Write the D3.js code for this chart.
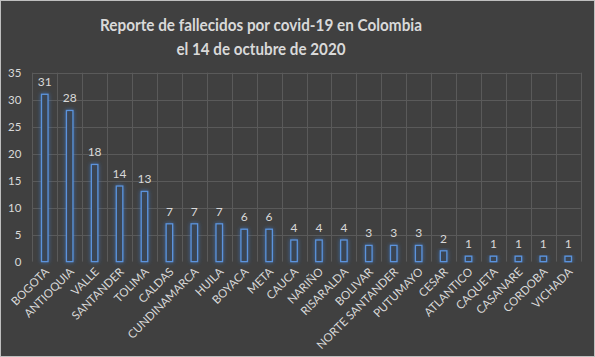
<!DOCTYPE html>
<html><head><meta charset="utf-8">
<script src="https://cdn.jsdelivr.net/npm/d3@7"></script>
<style>
html,body{margin:0;padding:0;background:#404040;}
svg{display:block;}
</style></head><body>
<svg id="c" width="595" height="357"></svg>
<script>
const categories = ["BOGOTA","ANTIOQUIA","VALLE","SANTANDER","TOLIMA","CALDAS","CUNDINAMARCA","HUILA","BOYACA","META","CAUCA","NARIÑO","RISARALDA","BOLIVAR","NORTE SANTANDER","PUTUMAYO","CESAR","ATLANTICO","CAQUETA","CASANARE","CORDOBA","VICHADA"];
const values = [31,28,18,14,13,7,7,7,6,6,4,4,4,3,3,3,2,1,1,1,1,1];
const yTicks = [0,5,10,15,20,25,30,35];
const titleLines = ["Reporte de fallecidos por covid-19 en Colombia","el 14 de octubre de 2020"];
const titleWidths = [322,169];

const W = 595, H = 357;
const m = {left:32.3, right:W-580.7, top:72.7, bottom:H-261.6};
const svg = d3.select("#c");
const font = "Lato, 'Open Sans', sans-serif";
const txt = "#d9d9d9";

svg.append("rect").attr("x",0.5).attr("y",0.5).attr("width",W-1).attr("height",H-1)
  .attr("fill","#404040").attr("stroke","#bfbfbf").attr("stroke-width",1);

const defs = svg.append("defs");
const f = defs.append("filter").attr("id","glow").attr("x","-100%").attr("y","-20%").attr("width","300%").attr("height","140%");
f.append("feGaussianBlur").attr("in","SourceAlpha").attr("stdDeviation",2.2).attr("result","b");
f.append("feFlood").attr("flood-color","#3d7fd6").attr("flood-opacity",0.7);
f.append("feComposite").attr("in2","b").attr("operator","in").attr("result","g");
const fm = f.append("feMerge");
fm.append("feMergeNode").attr("in","g");
fm.append("feMergeNode").attr("in","SourceGraphic");

const x = d3.scaleBand().domain(categories).range([m.left, W-m.right]).paddingInner(0).paddingOuter(0);
const y = d3.scaleLinear().domain([0,35]).range([H-m.bottom, m.top]);

// horizontal grid
svg.append("g").selectAll("line").data(yTicks.slice(1)).join("line")
  .attr("x1",m.left).attr("x2",W-m.right)
  .attr("y1",d=>Math.round(y(d))+0.5).attr("y2",d=>Math.round(y(d))+0.5)
  .attr("stroke","#5a5a5a").attr("stroke-width",1);
// vertical grid at band edges
const edges = categories.map(c=>x(c)).concat([W-m.right]);
svg.append("g").selectAll("line").data(edges).join("line")
  .attr("x1",d=>Math.round(d)+0.5).attr("x2",d=>Math.round(d)+0.5)
  .attr("y1",m.top).attr("y2",H-m.bottom)
  .attr("stroke","#5a5a5a").attr("stroke-width",1);

// y axis labels
const yAxis = d3.axisLeft(y).tickValues(yTicks).tickSize(0).tickPadding(0);
const ya = svg.append("g").attr("transform",`translate(${m.left-11},0)`).call(yAxis);
ya.select(".domain").remove();
ya.selectAll("text").attr("fill",txt).attr("font-family",font).attr("font-size",11.5).attr("dy","0.35em");

// bars
const bw = 6.5;
svg.append("g").selectAll("rect").data(values).join("rect")
  .attr("x",(d,i)=>x(categories[i])+x.bandwidth()/2-bw/2)
  .attr("y",d=>y(d))
  .attr("width",bw)
  .attr("height",d=>y(0)-y(d))
  .attr("fill","#3a4452").attr("stroke","#5b93dc").attr("stroke-width",1.3)
  .attr("filter","url(#glow)");

// value labels
svg.append("g").selectAll("text").data(values).join("text")
  .attr("x",(d,i)=>x(categories[i])+x.bandwidth()/2)
  .attr("y",d=>y(d)-8)
  .attr("text-anchor","middle")
  .attr("fill",txt).attr("font-family",font).attr("font-size",12)
  .text(d=>d);

// x axis labels
const xAxis = d3.axisBottom(x).tickSize(0).tickPadding(0);
const xa = svg.append("g").attr("transform",`translate(0,${H-m.bottom})`).call(xAxis);
xa.select(".domain").remove();
xa.selectAll("text")
  .attr("fill",txt).attr("font-family",font).attr("font-size",11.5)
  .attr("text-anchor","end").attr("dy",0).attr("y",0)
  .attr("transform","translate(5,11) rotate(-45)");

// title
svg.append("g").selectAll("text").data(titleLines).join("text")
  .attr("x",261).attr("y",(d,i)=>31+i*24)
  .attr("text-anchor","middle")
  .attr("textLength",(d,i)=>titleWidths[i]).attr("lengthAdjust","spacingAndGlyphs")
  .attr("fill",txt).attr("font-family",font).attr("font-weight",700).attr("font-size",17.5)
  .text(d=>d);
</script></body></html>
